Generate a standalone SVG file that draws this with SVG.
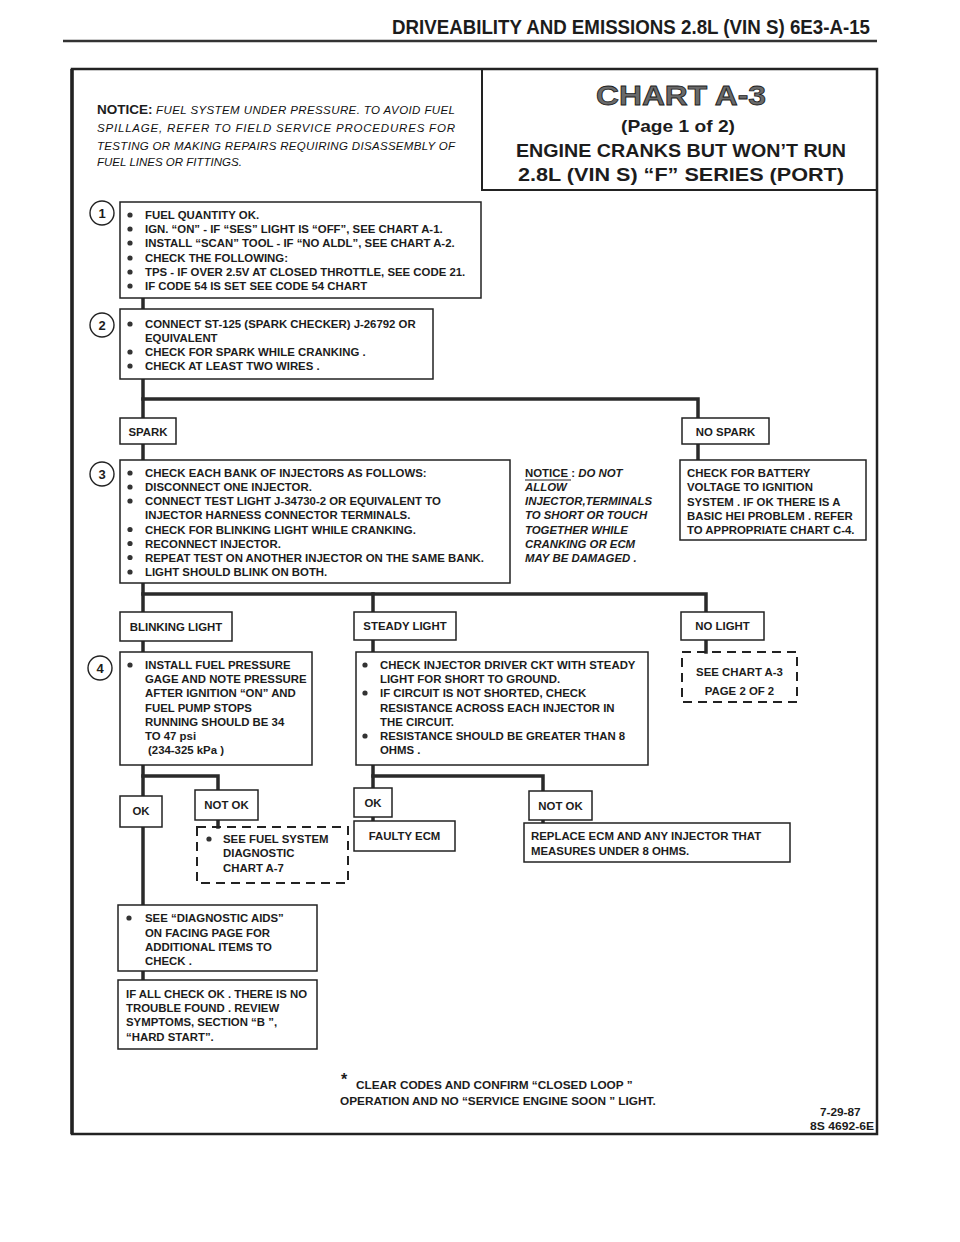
<svg xmlns="http://www.w3.org/2000/svg" width="960" height="1242" viewBox="0 0 960 1242">
<style>
text{font-family:"Liberation Sans",Arial,sans-serif;font-weight:bold;fill:#1c1c1c;font-size:11.4px}
.box{fill:#fff;stroke:#222;stroke-width:1.5}
.dash{fill:none;stroke:#222;stroke-width:2;stroke-dasharray:9 6}
.conn{fill:none;stroke:#2a2a2a;stroke-width:3.5;stroke-linecap:square}
.num{font-size:13px;text-anchor:middle}
.c{text-anchor:middle}
.it{font-style:italic}
.itn{font-style:italic;font-weight:normal;font-size:11.5px;fill:#111}
.ring{fill:#fff;stroke:#222;stroke-width:1.4}
.dot{fill:#333}
.title{font-size:19px}
.hdr{font-size:20px}
.chart{font-size:27px;fill:#6a6a6a;stroke:#1a1a1a;stroke-width:0.8}
.page{font-size:17px}
.ntc{font-size:13.5px}
.ast{font-size:16px}
.foot{font-size:11.8px}
</style>
<rect width="960" height="1242" fill="#fff"/>

<g id="page-header">
<text x="392" y="34" class="hdr" textLength="478" lengthAdjust="spacingAndGlyphs">DRIVEABILITY AND EMISSIONS 2.8L (VIN S) 6E3-A-15</text>
<line x1="63" y1="41" x2="877" y2="41" stroke="#333" stroke-width="2.5"/>
</g>

<g id="frame">
<rect x="72" y="69" width="805" height="1065" fill="none" stroke="#222" stroke-width="2.5"/>
<line x1="72" y1="69" x2="72" y2="1134" stroke="#222" stroke-width="3.5"/>
<path d="M482,69 V190 H877" fill="none" stroke="#222" stroke-width="2"/>
</g>

<g id="notice-fuel">
<text x="97" y="114" class="ntc">NOTICE:</text>
<text x="156" y="114" class="itn" textLength="299" lengthAdjust="spacing">FUEL SYSTEM UNDER PRESSURE.  TO AVOID FUEL</text>
<text x="97" y="132" class="itn" textLength="358" lengthAdjust="spacing">SPILLAGE, REFER TO FIELD SERVICE PROCEDURES FOR</text>
<text x="97" y="150" class="itn" textLength="358" lengthAdjust="spacing">TESTING OR MAKING REPAIRS REQUIRING DISASSEMBLY OF</text>
<text x="97" y="166" class="itn">FUEL LINES OR FITTINGS.</text>
</g>

<g id="title">
<text x="596" y="105" class="chart" textLength="170" lengthAdjust="spacingAndGlyphs">CHART  A-3</text>
<text x="621" y="132" class="page" textLength="114" lengthAdjust="spacingAndGlyphs">(Page 1 of 2)</text>
<text x="516" y="157" class="title" textLength="330" lengthAdjust="spacingAndGlyphs">ENGINE CRANKS BUT WON’T RUN</text>
<text x="518" y="181" class="title" textLength="326" lengthAdjust="spacingAndGlyphs">2.8L  (VIN S)  “F”  SERIES  (PORT)</text>
</g>

<g id="connectors">
<path class="conn" d="M143,298 V309"/>
<path class="conn" d="M143,379 V418"/>
<path class="conn" d="M143,399 H698 V418"/>
<path class="conn" d="M143,444 V460"/>
<path class="conn" d="M698,444 V460"/>
<path class="conn" d="M143,583 V612"/>
<path class="conn" d="M143,594 H706 V612"/>
<path class="conn" d="M373,594 V612"/>
<path class="conn" d="M143,641 V652"/>
<path class="conn" d="M373,640 V652"/>
<path class="conn" d="M706,640 V652"/>
<path class="conn" d="M143,765 V796"/>
<path class="conn" d="M143,776 H218 V790"/>
<path class="conn" d="M218,820 V827"/>
<path class="conn" d="M143,827 V905"/>
<path class="conn" d="M143,971 V980"/>
<path class="conn" d="M373,765 V788"/>
<path class="conn" d="M373,776 H543 V791"/>
<path class="conn" d="M373,817 V821"/>
<path class="conn" d="M543,820 V823"/>
</g>

<g id="step1">
<circle class="ring" cx="102" cy="213" r="12"/>
<text class="num" x="102" y="218">1</text>
<rect class="box" x="120" y="202" width="361" height="96"/>
<circle class="dot" cx="130" cy="215" r="2.6"/><text x="145" y="219">FUEL QUANTITY OK.</text>
<circle class="dot" cx="130" cy="229" r="2.6"/><text x="145" y="233">IGN. “ON” - IF “SES” LIGHT IS “OFF”, SEE CHART A-1.</text>
<circle class="dot" cx="130" cy="243" r="2.6"/><text x="145" y="247">INSTALL “SCAN” TOOL - IF “NO ALDL”, SEE CHART A-2.</text>
<circle class="dot" cx="130" cy="258" r="2.6"/><text x="145" y="262">CHECK THE FOLLOWING:</text>
<circle class="dot" cx="130" cy="272" r="2.6"/><text x="145" y="276">TPS - IF OVER 2.5V AT CLOSED THROTTLE, SEE CODE 21.</text>
<circle class="dot" cx="130" cy="286" r="2.6"/><text x="145" y="290">IF CODE 54 IS SET SEE CODE 54 CHART</text>
</g>

<g id="step2">
<circle class="ring" cx="102" cy="325" r="12"/>
<text class="num" x="102" y="330">2</text>
<rect class="box" x="120" y="309" width="313" height="70"/>
<circle class="dot" cx="130" cy="324" r="2.6"/><text x="145" y="328">CONNECT ST-125  (SPARK CHECKER) J-26792 OR</text>
<text x="145" y="342">EQUIVALENT</text>
<circle class="dot" cx="130" cy="352" r="2.6"/><text x="145" y="356">CHECK FOR SPARK WHILE CRANKING .</text>
<circle class="dot" cx="130" cy="366" r="2.6"/><text x="145" y="370">CHECK AT LEAST TWO WIRES .</text>
</g>

<g id="spark">
<rect class="box" x="120" y="418" width="56" height="26"/>
<text class="c" x="148" y="436">SPARK</text>
</g>

<g id="no-spark">
<rect class="box" x="682" y="418" width="87" height="26"/>
<text class="c" x="725.5" y="436">NO SPARK</text>
</g>

<g id="step3">
<circle class="ring" cx="102" cy="474" r="12"/>
<text class="num" x="102" y="479">3</text>
<rect class="box" x="120" y="460" width="390" height="123"/>
<circle class="dot" cx="130" cy="473" r="2.6"/><text x="145" y="477">CHECK EACH BANK OF INJECTORS AS FOLLOWS:</text>
<circle class="dot" cx="130" cy="487" r="2.6"/><text x="145" y="491">DISCONNECT ONE INJECTOR.</text>
<circle class="dot" cx="130" cy="501" r="2.6"/><text x="145" y="505">CONNECT TEST LIGHT J-34730-2 OR EQUIVALENT TO</text>
<text x="145" y="519">INJECTOR HARNESS CONNECTOR TERMINALS.</text>
<circle class="dot" cx="130" cy="529.5" r="2.6"/><text x="145" y="533.5">CHECK FOR BLINKING LIGHT WHILE CRANKING.</text>
<circle class="dot" cx="130" cy="543.5" r="2.6"/><text x="145" y="547.5">RECONNECT INJECTOR.</text>
<circle class="dot" cx="130" cy="557.5" r="2.6"/><text x="145" y="561.5">REPEAT TEST ON ANOTHER INJECTOR ON THE SAME BANK.</text>
<circle class="dot" cx="130" cy="572" r="2.6"/><text x="145" y="576">LIGHT SHOULD BLINK ON BOTH.</text>
</g>

<g id="notice-injector">
<text x="525" y="477">NOTICE :  <tspan class="it">DO NOT</tspan></text>
<line x1="525" y1="480" x2="571" y2="480" stroke="#1c1c1c" stroke-width="1"/>
<text x="525" y="491" class="it">ALLOW</text>
<text x="525" y="505" class="it">INJECTOR,TERMINALS</text>
<text x="525" y="519" class="it">TO SHORT OR TOUCH</text>
<text x="525" y="533.5" class="it">TOGETHER  WHILE</text>
<text x="525" y="547.5" class="it">CRANKING OR ECM</text>
<text x="525" y="561.5" class="it">MAY BE DAMAGED .</text>
</g>

<g id="check-battery">
<rect class="box" x="680" y="460" width="186" height="80"/>
<text x="687" y="477">CHECK FOR BATTERY</text>
<text x="687" y="491">VOLTAGE TO IGNITION</text>
<text x="687" y="506">SYSTEM . IF OK THERE IS A</text>
<text x="687" y="520">BASIC HEI PROBLEM . REFER</text>
<text x="687" y="534">TO  APPROPRIATE CHART C-4.</text>
</g>

<g id="blinking-light">
<rect class="box" x="120" y="612" width="112" height="29"/>
<text class="c" x="176" y="631">BLINKING LIGHT</text>
</g>

<g id="steady-light">
<rect class="box" x="354" y="612" width="102" height="28"/>
<text class="c" x="405" y="630">STEADY LIGHT</text>
</g>

<g id="no-light">
<rect class="box" x="681" y="612" width="83" height="28"/>
<text class="c" x="722.5" y="630">NO LIGHT</text>
</g>

<g id="step4">
<circle class="ring" cx="100" cy="668" r="12"/>
<text class="num" x="100" y="673">4</text>
<rect class="box" x="120" y="652" width="192" height="113"/>
<circle class="dot" cx="130" cy="665" r="2.6"/><text x="145" y="669">INSTALL FUEL PRESSURE</text>
<text x="145" y="683">GAGE AND NOTE PRESSURE</text>
<text x="145" y="697">AFTER IGNITION “ON” AND</text>
<text x="145" y="712">FUEL PUMP STOPS</text>
<text x="145" y="726">RUNNING SHOULD BE 34</text>
<text x="145" y="740">TO 47 psi</text>
<text x="148" y="754">(234-325 kPa )</text>
</g>

<g id="steady-check">
<rect class="box" x="356" y="652" width="292" height="113"/>
<circle class="dot" cx="365" cy="665" r="2.6"/><text x="380" y="669">CHECK INJECTOR DRIVER CKT WITH STEADY</text>
<text x="380" y="683">LIGHT FOR SHORT TO GROUND.</text>
<circle class="dot" cx="365" cy="693" r="2.6"/><text x="380" y="697">IF CIRCUIT IS NOT SHORTED, CHECK</text>
<text x="380" y="712">RESISTANCE ACROSS EACH INJECTOR IN</text>
<text x="380" y="726">THE CIRCUIT.</text>
<circle class="dot" cx="365" cy="736" r="2.6"/><text x="380" y="740">RESISTANCE SHOULD BE GREATER THAN 8</text>
<text x="380" y="754">OHMS .</text>
</g>

<g id="see-chart-page2">
<rect class="dash" x="682" y="652" width="115" height="50"/>
<text class="c" x="739.5" y="676">SEE CHART A-3</text>
<text class="c" x="739.5" y="695">PAGE 2 OF 2</text>
</g>

<g id="ok-fuel">
<rect class="box" x="120" y="796" width="42" height="31"/>
<text class="c" x="141" y="815">OK</text>
</g>

<g id="not-ok-fuel">
<rect class="box" x="195" y="790" width="63" height="30"/>
<text class="c" x="226.5" y="809">NOT OK</text>
</g>

<g id="see-fuel-system">
<rect class="dash" x="197" y="827" width="151" height="56"/>
<circle class="dot" cx="209" cy="839" r="2.6"/>
<text x="223" y="843">SEE FUEL SYSTEM</text>
<text x="223" y="857">DIAGNOSTIC</text>
<text x="223" y="872">CHART A-7</text>
</g>

<g id="ok-steady">
<rect class="box" x="354" y="788" width="38" height="29"/>
<text class="c" x="373" y="807">OK</text>
</g>

<g id="faulty-ecm">
<rect class="box" x="354" y="821" width="101" height="30"/>
<text class="c" x="404.5" y="840">FAULTY ECM</text>
</g>

<g id="not-ok-steady">
<rect class="box" x="529" y="791" width="63" height="29"/>
<text class="c" x="560.5" y="810">NOT OK</text>
</g>

<g id="replace-ecm">
<rect class="box" x="524" y="823" width="266" height="39"/>
<text x="531" y="840">REPLACE ECM AND ANY INJECTOR THAT</text>
<text x="531" y="855">MEASURES UNDER 8 OHMS.</text>
</g>

<g id="diagnostic-aids">
<rect class="box" x="118" y="905" width="199" height="66"/>
<circle class="dot" cx="129" cy="918" r="2.6"/>
<text x="145" y="922">SEE “DIAGNOSTIC AIDS”</text>
<text x="145" y="937">ON FACING PAGE FOR</text>
<text x="145" y="951">ADDITIONAL ITEMS TO</text>
<text x="145" y="965">CHECK .</text>
</g>

<g id="no-trouble">
<rect class="box" x="118" y="980" width="199" height="69"/>
<text x="126" y="998">IF ALL CHECK OK . THERE IS NO</text>
<text x="126" y="1012">TROUBLE FOUND .  REVIEW</text>
<text x="126" y="1026">SYMPTOMS, SECTION “B ”,</text>
<text x="126" y="1041">“HARD START”.</text>
</g>

<g id="footer">
<text x="341" y="1085" class="ast">*</text>
<text x="356" y="1089" class="foot">CLEAR CODES AND CONFIRM “CLOSED LOOP ”</text>
<text x="340" y="1105" class="foot">OPERATION AND NO “SERVICE ENGINE SOON ” LIGHT.</text>
<text x="820" y="1116" class="foot">7-29-87</text>
<text x="810" y="1130" class="foot" textLength="64" lengthAdjust="spacingAndGlyphs">8S 4692-6E</text>
</g>
</svg>
